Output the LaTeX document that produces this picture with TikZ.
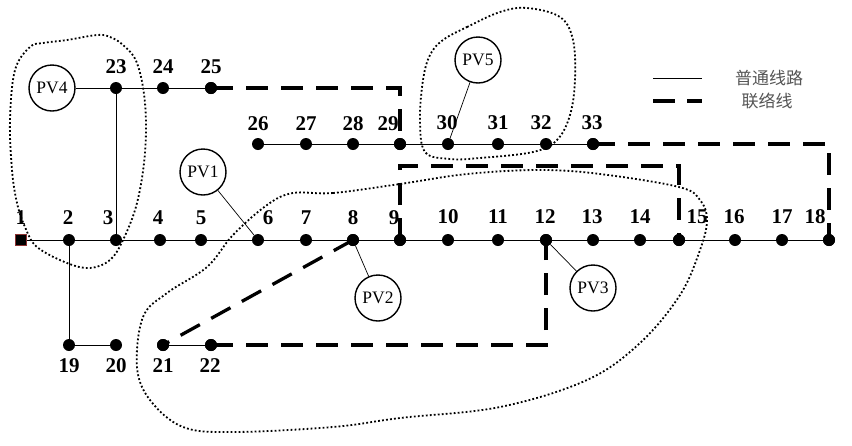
\documentclass[tikz,border=0pt]{standalone}
\usepackage{fontspec}
\setmainfont{Liberation Serif}
\newfontfamily\cjk{Noto Sans CJK SC}
\definecolor{sqborder}{RGB}{140,50,50}
\definecolor{legendtext}{RGB}{85,85,85}
\begin{document}
\begin{tikzpicture}[x=1pt,y=-1pt,
  bus/.style={circle,fill=black,inner sep=0pt,minimum size=12pt},
  num/.style={font=\fontsize{21}{21}\selectfont\bfseries,inner sep=0pt},
  pv/.style={circle,draw,line width=1.4pt,minimum size=46pt,inner sep=0pt,font=\fontsize{17.5}{17.5}\selectfont,fill=white},
  feeder/.style={line width=1pt},
  pvlink/.style={line width=0.7pt},
  tie/.style={line width=3.3pt,dash pattern=on 22pt off 13pt},
  region/.style={line width=1.8pt,dash pattern=on 1.8pt off 2.2pt},
  legtxt/.style={font=\cjk\fontsize{17}{17}\selectfont,text=legendtext,inner sep=0pt}]
\useasboundingbox (0,0) rectangle (852,445);

% regions
\draw[region] plot[smooth cycle,tension=0.6] coordinates {
  (97,35) (110,37) (123,45) (137,63) (145,103) (145,153) (137,203) (123,240)
  (110,260) (90,268) (67,263) (37,247) (25,227) (17,203) (12,170) (10,120)
  (15,70) (30,47) (43,43) (67,40)};
\draw[region] plot[smooth cycle,tension=0.6] coordinates {
  (443,40) (467,27) (500,12) (527,8) (560,17) (573,40) (575,80) (570,115)
  (557,140) (533,152) (480,158) (450,159) (425,152) (420,120) (423,80) (430,55)};
\draw[region] plot[smooth cycle,tension=0.6] coordinates {
  (293,193) (333,193) (400,184) (467,174) (540,170) (600,174) (679,187)
  (700,200) (707,220) (700,250) (680,295) (640,343) (587,380) (500,407)
  (400,418) (333,427) (233,432) (183,427) (150,400) (137,367) (143,317)
  (167,293) (207,267) (233,235) (267,205)};

% buses
\node[draw=sqborder,fill=black,minimum size=11pt,inner sep=0pt,line width=0.8pt] (n1) at (21,240) {};
\node[bus] (n2) at (69,240) {};
\node[bus] (n3) at (116,240) {};
\node[bus] (n4) at (160,240) {};
\node[bus] (n5) at (201,240) {};
\node[bus] (n6) at (258,240) {};
\node[bus] (n7) at (306,240) {};
\node[bus] (n8) at (353,240) {};
\node[bus] (n9) at (400,240) {};
\node[bus] (n10) at (448,240) {};
\node[bus] (n11) at (498,240) {};
\node[bus] (n12) at (546,240) {};
\node[bus] (n13) at (593,240) {};
\node[bus] (n14) at (640,240) {};
\node[bus] (n15) at (679,240) {};
\node[bus] (n16) at (735,240) {};
\node[bus] (n17) at (782,240) {};
\node[bus] (n18) at (829,240) {};
\node[bus] (n19) at (69,345) {};
\node[bus] (n20) at (116,345) {};
\node[bus] (n21) at (163,345) {};
\node[bus] (n22) at (211,345) {};
\node[bus] (n23) at (116,88) {};
\node[bus] (n24) at (163,88) {};
\node[bus] (n25) at (211,88) {};
\node[bus] (n26) at (258,144) {};
\node[bus] (n27) at (306,144) {};
\node[bus] (n28) at (353,144) {};
\node[bus] (n29) at (400,144) {};
\node[bus] (n30) at (448,144) {};
\node[bus] (n31) at (498,144) {};
\node[bus] (n32) at (546,144) {};
\node[bus] (n33) at (593,144) {};

% PV units
\node[pv] (pv1) at (203,172) {PV1};
\node[pv] (pv2) at (378,298) {PV2};
\node[pv] (pv3) at (593,288) {PV3};
\node[pv] (pv4) at (52,88) {PV4};
\node[pv] (pv5) at (478,60) {PV5};

% feeders
\draw[feeder] (n1) -- (n2) -- (n3) -- (n4) -- (n5) -- (n6) -- (n7) -- (n8) -- (n9)
  -- (n10) -- (n11) -- (n12) -- (n13) -- (n14) -- (n15) -- (n16) -- (n17) -- (n18);
\draw[feeder] (n2) -- (n19) -- (n20);
\draw[feeder] (n21) -- (n22);
\draw[feeder] (n3) -- (n23);
\draw[feeder] (pv4) -- (n23) -- (n24) -- (n25);
\draw[feeder] (n26) -- (n27) -- (n28) -- (n29) -- (n30) -- (n31) -- (n32) -- (n33);
\draw[pvlink] (pv1) -- (n6);
\draw[pvlink] (n8) -- (pv2);
\draw[pvlink] (n12) -- (pv3);
\draw[pvlink] (pv5) -- (n30);

% tie lines
\coordinate (c9) at (400,166);
\coordinate (c15) at (679,166);
\draw[tie] (n25.center) -- (n29 |- n25) -- (n29.center);
\draw[tie] (n33.center) -- (n18 |- n33) -- (n18.center);
\draw[tie] (n9.center) -- (c9) -- (c15) -- (n15.center);
\draw[tie] (n8.center) -- (n21.center);
\draw[tie] (n22.center) -- (n12 |- n22) -- (n12.center);

% redraw bus dots over tie ends
\foreach \k in {8,9,12,15,18,21,22,25,29,33} \fill (n\k) circle (6pt);

% labels
\node[num] (t1) at (21,218) {1};
\node[num] (t2) at (68,218) {2};
\node[num] (t3) at (108,218) {3};
\node[num] (t4) at (158,218) {4};
\node[num] (t5) at (201,218) {5};
\node[num] (t6) at (268,218) {6};
\node[num] (t7) at (306,218) {7};
\node[num] (t8) at (353,218) {8};
\node[num] (t9) at (394,218) {9};
\node[num] (t10) at (448,217) {10};
\node[num] (t11) at (498,217) {11};
\node[num] (t12) at (545,217) {12};
\node[num] (t13) at (592,217) {13};
\node[num] (t14) at (640,217) {14};
\node[num] (t15) at (697,217) {15};
\node[num] (t16) at (734,217) {16};
\node[num] (t17) at (782,217) {17};
\node[num] (t18) at (815,217) {18};
\node[num] (t19) at (69,366) {19};
\node[num] (t20) at (116,366) {20};
\node[num] (t21) at (163,366) {21};
\node[num] (t22) at (210,366) {22};
\node[num] (t23) at (116,67) {23};
\node[num] (t24) at (163,67) {24};
\node[num] (t25) at (211,67) {25};
\node[num] (t26) at (258,124) {26};
\node[num] (t27) at (306,124) {27};
\node[num] (t28) at (353,124) {28};
\node[num] (t29) at (388,124) {29};
\node[num] (t30) at (447,123) {30};
\node[num] (t31) at (498,123) {31};
\node[num] (t32) at (541,123) {32};
\node[num] (t33) at (592,123) {33};

% legend
\coordinate (la) at (653,78);
\coordinate (lb) at (702,78);
\coordinate (lc) at (653,101);
\coordinate (ld) at (702,101);
\draw[feeder] (la) -- (lb);
\draw[line width=3.3pt,dash pattern=on 22pt off 12pt] (lc) -- (ld);
\node[legtxt] (lt1) at (769,78) {普通线路};
\node[legtxt] (lt2) at (767,101) {联络线};
\end{tikzpicture}
\end{document}
